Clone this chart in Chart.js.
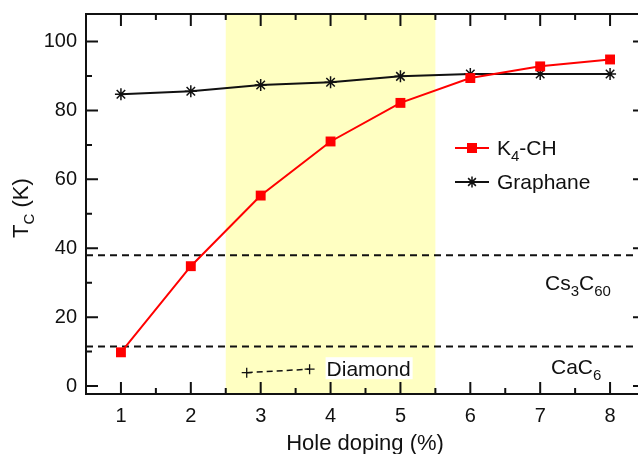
<!DOCTYPE html>
<html>
<head>
<meta charset="utf-8">
<script src="https://cdn.jsdelivr.net/npm/chart.js@4.4.1/dist/chart.umd.min.js"></script>
<style>
    html, body { margin: 0; padding: 0; background: #fff; overflow: hidden; }
    #wrap { width: 638px; height: 454px; overflow: hidden; position: relative; }
    #chart { position: absolute; left: 0; top: 0; }
</style>
</head>
<body>
<div id="wrap"><canvas id="chart" width="660" height="454"></canvas></div>
<script>
// Values.
const holeDoping = [1, 2, 3, 4, 5, 6, 7, 8];
const k4chTc = [9.8, 34.8, 55.3, 71.0, 82.2, 89.4, 92.8, 94.8];
const graphaneTc = [84.7, 85.6, 87.4, 88.2, 89.9, 90.6, 90.6, 90.6];
const diamondDoping = [2.8, 3.7];
const diamondTc = [3.9, 4.9];
const cs3c60Tc = 38;
const cac6Tc = 11.5;
const bandRange = [2.5, 5.5];
const xRange = [0.5, 8.5];
const yRange = [-2.3, 108];
const xTickLabels = [1, 2, 3, 4, 5, 6, 7, 8];
const yTickLabels = [0, 20, 40, 60, 80, 100];

const FONT = '"Liberation Sans", Arial, sans-serif';
const toPts = (xs, ys) => xs.map((x, i) => ({ x: x, y: ys[i] }));
const hline = (v) => [{ x: xRange[0], y: v }, { x: xRange[1], y: v }];

// draw text made of [text, isSub] pieces, returns end x
function drawParts(ctx, parts, x, y, size) {
    ctx.textAlign = 'left';
    ctx.textBaseline = 'alphabetic';
    parts.forEach(([t, sub]) => {
        ctx.font = (sub ? Math.round(size * 0.7) : size) + 'px ' + FONT;
        ctx.fillText(t, x, sub ? y + size * 0.28 : y);
        x += ctx.measureText(t).width;
    });
    return x;
}

const framePlugin = {
    id: 'frame',
    beforeDatasetsDraw(chart) {
        const { ctx, chartArea: a, scales: { x } } = chart;
        const x0 = x.getPixelForValue(bandRange[0]);
        const x1 = x.getPixelForValue(bandRange[1]);
        ctx.save();
        ctx.fillStyle = '#ffffc2';
        ctx.fillRect(x0, a.top, x1 - x0, a.bottom - a.top);
        ctx.restore();
    },
    afterDatasetsDraw(chart) {
        const { ctx, scales: { x, y } } = chart;
        ctx.save();

        // Diamond label with white box
        const dx = x.getPixelForValue(diamondDoping[1]) + 17;
        const dy = y.getPixelForValue(diamondTc[1]);
        ctx.font = '21px ' + FONT;
        const w = ctx.measureText('Diamond').width;
        ctx.fillStyle = '#fff';
        ctx.fillRect(dx - 1, dy - 12, w + 3, 22);
        ctx.fillStyle = '#111';
        drawParts(ctx, [['Diamond', false]], dx, dy + 7, 21);

        // reference material labels
        drawParts(ctx, [['Cs', false], ['3', true], ['C', false], ['60', true]], 545, 290, 21);
        drawParts(ctx, [['CaC', false], ['6', true]], 551, 374, 21);

        // legend
        const legend = [
            { y: 148, color: '#ff0000', parts: [['K', false], ['4', true], ['-CH', false]], style: 'rect' },
            { y: 182, color: '#111', parts: [['Graphane', false]], style: 'star' },
        ];
        legend.forEach(item => {
            ctx.strokeStyle = item.color;
            ctx.lineWidth = 2;
            ctx.beginPath();
            ctx.moveTo(455, item.y);
            ctx.lineTo(489, item.y);
            ctx.stroke();
            ctx.fillStyle = item.color;
            if (item.style === 'rect') {
                ctx.fillRect(467, item.y - 5, 10, 10);
            } else {
                ctx.lineWidth = 1.5;
                Chart.helpers.drawPoint(ctx, { pointStyle: 'star', radius: 5.5, borderWidth: 1.5 }, 472, item.y);
            }
            ctx.fillStyle = '#111';
            drawParts(ctx, item.parts, 497, item.y + 7, 21);
        });
        ctx.restore();
    },
    afterDraw(chart) {
        const { ctx, chartArea: a, scales: { x, y } } = chart;
        ctx.save();
        ctx.strokeStyle = '#111';
        ctx.lineWidth = 2;
        ctx.strokeRect(a.left, a.top, a.right - a.left, a.bottom - a.top);

        // inward ticks on all four sides
        ctx.beginPath();
        for (let v = 1; v <= 8; v += 0.5) {
            const len = Number.isInteger(v) ? 12 : 6;
            const px = x.getPixelForValue(v);
            ctx.moveTo(px, a.bottom); ctx.lineTo(px, a.bottom - len);
            ctx.moveTo(px, a.top); ctx.lineTo(px, a.top + len);
        }
        for (let v = 0; v <= 100; v += 10) {
            const len = v % 20 === 0 ? 12 : 6;
            const py = y.getPixelForValue(v);
            ctx.moveTo(a.left, py); ctx.lineTo(a.left + len, py);
            ctx.moveTo(a.right, py); ctx.lineTo(a.right - len, py);
        }
        ctx.stroke();

        // axis titles
        ctx.fillStyle = '#111';
        ctx.font = '22px ' + FONT;
        ctx.textAlign = 'center';
        ctx.textBaseline = 'alphabetic';
        ctx.fillText('Hole doping (%)', 365, 450);

        ctx.translate(28, 238);
        ctx.rotate(-Math.PI / 2);
        drawParts(ctx, [['T', false], ['C', true], [' (K)', false]], 0, 0, 22);
        ctx.restore();
    }
};

const ctx = document.getElementById('chart');

new Chart(ctx, {
    type: 'scatter',
    data: {
        datasets: [
            {
                label: 'K4-CH',
                data: toPts(holeDoping, k4chTc),
                showLine: true,
                borderColor: '#ff0000',
                backgroundColor: '#ff0000',
                borderWidth: 2,
                pointStyle: 'rect',
                pointRadius: 7,
                pointBorderWidth: 0,
                order: 0,
            },
            {
                label: 'Graphane',
                data: toPts(holeDoping, graphaneTc),
                showLine: true,
                borderColor: '#111',
                backgroundColor: '#111',
                borderWidth: 2,
                pointStyle: 'star',
                pointRadius: 6,
                pointBorderWidth: 1.5,
                order: 1,
            },
            {
                label: 'Diamond',
                data: toPts(diamondDoping, diamondTc),
                showLine: true,
                borderColor: '#111',
                borderWidth: 1.5,
                borderDash: [6, 4],
                pointStyle: 'cross',
                pointRadius: 5,
                pointBorderWidth: 1.3,
                order: 2,
            },
            {
                label: 'Cs3C60',
                data: hline(cs3c60Tc),
                showLine: true,
                borderColor: '#111',
                borderWidth: 2,
                borderDash: [7, 5],
                pointRadius: 0,
                order: 3,
            },
            {
                label: 'CaC6',
                data: hline(cac6Tc),
                showLine: true,
                borderColor: '#111',
                borderWidth: 2,
                borderDash: [7, 5],
                pointRadius: 0,
                order: 4,
            },
        ],
    },
    options: {
        responsive: false,
        animation: false,
        layout: { padding: { top: 14, right: 15, left: 0, bottom: 0 } },
        plugins: {
            legend: { display: false },
            tooltip: { enabled: false },
        },
        scales: {
            x: {
                type: 'linear',
                min: xRange[0],
                max: xRange[1],
                afterBuildTicks: (s) => { s.ticks = xTickLabels.map(v => ({ value: v })); },
                afterFit: (s) => { s.height = 60; s.paddingLeft = 0; s.paddingRight = 0; },
                grid: { display: false, drawTicks: false },
                border: { display: false },
                ticks: {
                    padding: 10,
                    maxRotation: 0,
                    autoSkip: false,
                    color: '#111',
                    font: { family: FONT, size: 20 },
                },
            },
            y: {
                min: yRange[0],
                max: yRange[1],
                afterBuildTicks: (s) => { s.ticks = yTickLabels.map(v => ({ value: v })); },
                afterFit: (s) => { s.width = 86; s.paddingTop = 0; s.paddingBottom = 0; },
                grid: { display: false, drawTicks: false },
                border: { display: false },
                ticks: {
                    padding: 9,
                    autoSkip: false,
                    color: '#111',
                    font: { family: FONT, size: 20 },
                },
            },
        },
    },
    plugins: [framePlugin],
});
</script>
</body>
</html>
